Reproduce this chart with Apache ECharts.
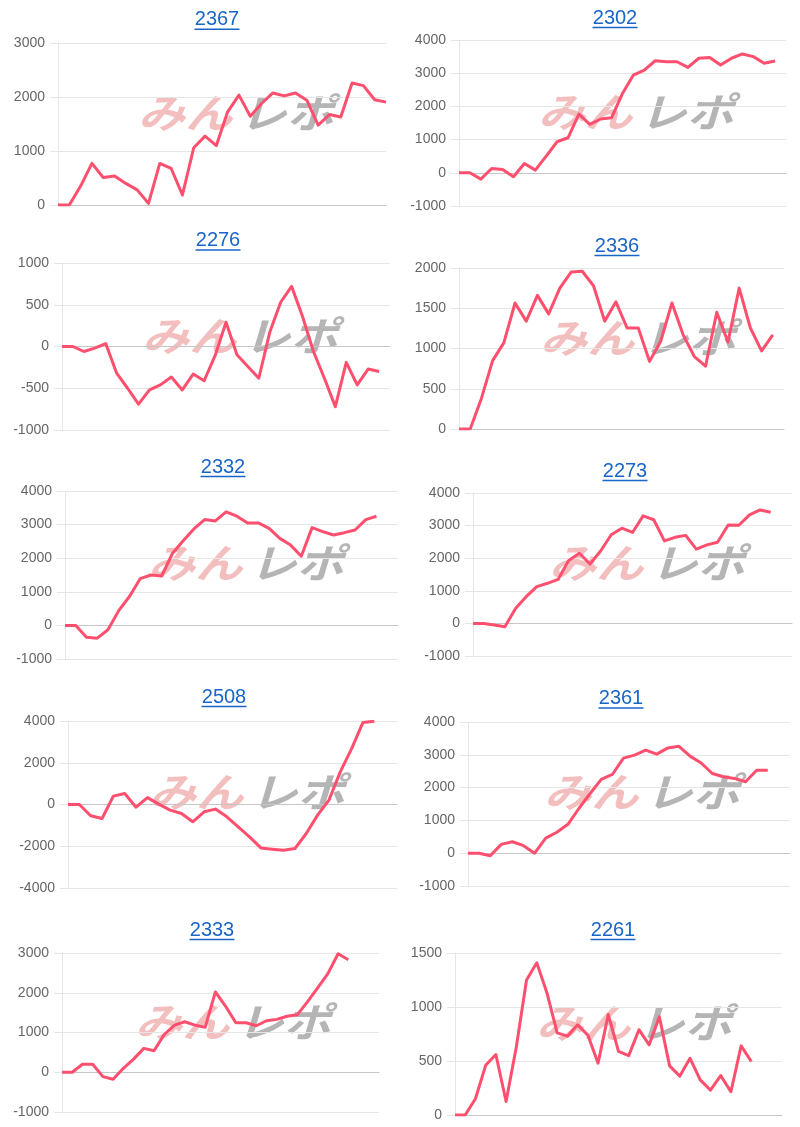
<!DOCTYPE html>
<html>
<head>
<meta charset="utf-8">
<script src="https://cdn.jsdelivr.net/npm/echarts@6/dist/echarts.min.js"></script>
<style>
html, body { margin: 0; padding: 0; background: #fff; }
#main { width: 800px; height: 1127px; }
</style>
</head>
<body>
<div id="main"></div>
<script>
// machine numbers (chart titles)
const machineNos = ['2367', '2302', '2276', '2336', '2332', '2273', '2508', '2361', '2333', '2261']

// 差枚推移 per machine
const diff2367 = [0, 0, 350, 770, 510, 535, 400, 280, 30, 770, 680, 185, 1060, 1275, 1100, 1725, 2035, 1645, 1880, 2075, 2020, 2075, 1940, 1480, 1675, 1630, 2260, 2210, 1950, 1905]
const diff2302 = [0, 0, -190, 130, 100, -120, 280, 80, 500, 935, 1055, 1770, 1460, 1620, 1660, 2390, 2945, 3095, 3375, 3345, 3345, 3175, 3450, 3475, 3245, 3450, 3580, 3500, 3300, 3365]
const diff2276 = [0, 0, -60, -20, 35, -320, -500, -690, -520, -460, -365, -520, -330, -410, -110, 290, -100, -240, -380, 170, 530, 720, 360, -60, -380, -720, -190, -460, -270, -300]
const diff2336 = [0, 0, 380, 850, 1070, 1565, 1340, 1660, 1430, 1750, 1950, 1960, 1780, 1340, 1580, 1255, 1255, 840, 1090, 1565, 1170, 900, 780, 1450, 1080, 1750, 1255, 970, 1170]
const diff2332 = [0, 0, -350, -380, -130, 440, 860, 1390, 1500, 1470, 2140, 2520, 2870, 3150, 3110, 3380, 3250, 3050, 3050, 2890, 2590, 2390, 2060, 2910, 2790, 2690, 2760, 2840, 3150, 3250]
const diff2273 = [0, 0, -50, -100, 460, 820, 1130, 1230, 1350, 1930, 2150, 1820, 2220, 2720, 2920, 2790, 3300, 3180, 2530, 2640, 2700, 2280, 2410, 2490, 3020, 3010, 3330, 3480, 3410]
const diff2508 = [0, 0, -540, -670, 400, 530, -130, 330, 20, -270, -430, -830, -350, -220, -590, -1070, -1550, -2080, -2140, -2190, -2110, -1390, -510, 210, 1560, 2680, 3930, 3990]
const diff2361 = [0, 0, -80, 270, 350, 230, 0, 460, 640, 880, 1370, 1820, 2250, 2400, 2900, 2990, 3140, 3020, 3210, 3260, 2960, 2750, 2430, 2330, 2280, 2180, 2530, 2530]
const diff2333 = [0, 0, 200, 200, -110, -175, 100, 330, 600, 540, 950, 1185, 1270, 1185, 1130, 2020, 1660, 1245, 1245, 1170, 1295, 1330, 1410, 1445, 1770, 2120, 2480, 2980, 2830]
const diff2261 = [0, 0, 150, 460, 560, 125, 630, 1250, 1410, 1130, 760, 730, 835, 740, 480, 930, 590, 550, 790, 650, 910, 455, 360, 525, 325, 230, 365, 215, 640, 495]

const seriesData = [diff2367, diff2302, diff2276, diff2336, diff2332, diff2273, diff2508, diff2361, diff2333, diff2261]

// number of x slots on each chart
const slotCounts = [30, 31, 31, 30, 32, 31, 30, 30, 32, 33]

// y axis ticks
const yMins = [0, -1000, -1000, 0, -1000, -1000, -4000, -1000, -1000, 0]
const yMaxs = [3000, 4000, 1000, 2000, 4000, 4000, 4000, 4000, 3000, 1500]
const ySteps = [1000, 1000, 500, 500, 1000, 1000, 2000, 1000, 1000, 500]

// layout: grid [left, top, width, height], title center x / baseline, watermark center
const panels = [
  { grid: [58, 43, 328, 162], tx: 217, ty: 26.7, wm: [236, 113] },
  { grid: [459, 40, 327, 166], tx: 615, ty: 25, wm: [636, 112] },
  { grid: [62, 263, 328, 167], tx: 218, ty: 247.5, wm: [240, 336] },
  { grid: [459, 268, 325, 161], tx: 617, ty: 253, wm: [638, 338] },
  { grid: [65, 491, 333, 168], tx: 223, ty: 474, wm: [246, 563] },
  { grid: [473, 493, 319, 163], tx: 625, ty: 478, wm: [647, 563] },
  { grid: [68, 721, 329, 167], tx: 224, ty: 704, wm: [247, 792] },
  { grid: [468, 722, 322, 164], tx: 621, ty: 705.5, wm: [642, 792] },
  { grid: [62, 953, 317, 159], tx: 212, ty: 937, wm: [233, 1022] },
  { grid: [455, 953, 327, 162], tx: 613, ty: 937, wm: [634, 1023] }
]

const LINE_COLOR = '#ff4f6e'
const LINK_COLOR = '#1a65c8'
const GRID_COLOR = '#e6e6e6'
const FONT = '"Liberation Sans", Arial, Helvetica, sans-serif'
const WM_FONT = 'italic bold 40px "Noto Sans CJK JP"'

let myChart = echarts.init(document.getElementById('main'))

let titles = [], grids = [], xAxes = [], yAxes = [], series = [], graphics = []

panels.forEach((p, i) => {
  titles.push({
    text: machineNos[i],
    left: p.tx,
    top: p.ty - 17,
    padding: 0,
    textAlign: 'center',
    textStyle: { color: LINK_COLOR, fontSize: 20, fontWeight: 'normal', fontFamily: FONT }
  })
  // underline of the link title
  graphics.push({
    type: 'line',
    shape: { x1: p.tx - 22.5, y1: p.ty + 2.5, x2: p.tx + 22.5, y2: p.ty + 2.5 },
    style: { stroke: LINK_COLOR, lineWidth: 1.5 }
  })
  // みんレポ watermark
  graphics.push({
    type: 'group',
    x: p.wm[0],
    y: p.wm[1],
    scaleX: 1.18,
    z: 0,
    children: [
      {
        type: 'text',
        x: -3,
        style: {
          text: 'みん', align: 'right', verticalAlign: 'middle',
          fill: 'rgba(228,110,110,0.45)',
          font: WM_FONT
        }
      },
      {
        type: 'text',
        x: 3,
        style: {
          text: 'レポ', align: 'left', verticalAlign: 'middle',
          fill: 'rgba(120,120,120,0.55)',
          font: WM_FONT
        }
      }
    ]
  })

  grids.push({ left: p.grid[0], top: p.grid[1], width: p.grid[2], height: p.grid[3], containLabel: false })

  let slots = []
  for (let k = 1; k <= slotCounts[i]; k++) slots.push(String(k))

  xAxes.push({
    gridIndex: i,
    type: 'category',
    data: slots,
    boundaryGap: false,
    axisLabel: { show: false },
    axisTick: { show: false },
    axisLine: { show: true, onZero: true, lineStyle: { color: '#c6c6c6', width: 1 } },
    splitLine: { show: false }
  })
  yAxes.push({
    gridIndex: i,
    type: 'value',
    min: yMins[i],
    max: yMaxs[i],
    interval: ySteps[i],
    axisLine: { show: true, lineStyle: { color: GRID_COLOR } },
    axisTick: { show: true, length: 8, lineStyle: { color: GRID_COLOR } },
    splitLine: { lineStyle: { color: GRID_COLOR } },
    axisLabel: {
      color: '#666', fontSize: 14, margin: 13, fontFamily: FONT,
      formatter: v => String(v)
    }
  })
  series.push({
    type: 'line',
    name: machineNos[i],
    xAxisIndex: i,
    yAxisIndex: i,
    data: seriesData[i],
    showSymbol: false,
    symbol: 'none',
    z: 5,
    lineStyle: { color: LINE_COLOR, width: 3, join: 'round' },
    itemStyle: { color: LINE_COLOR }
  })
})

let option = {
  animation: false,
  backgroundColor: '#fff',
  title: titles,
  grid: grids,
  xAxis: xAxes,
  yAxis: yAxes,
  series: series,
  graphic: graphics
}
myChart.setOption(option)
</script>
</body>
</html>
